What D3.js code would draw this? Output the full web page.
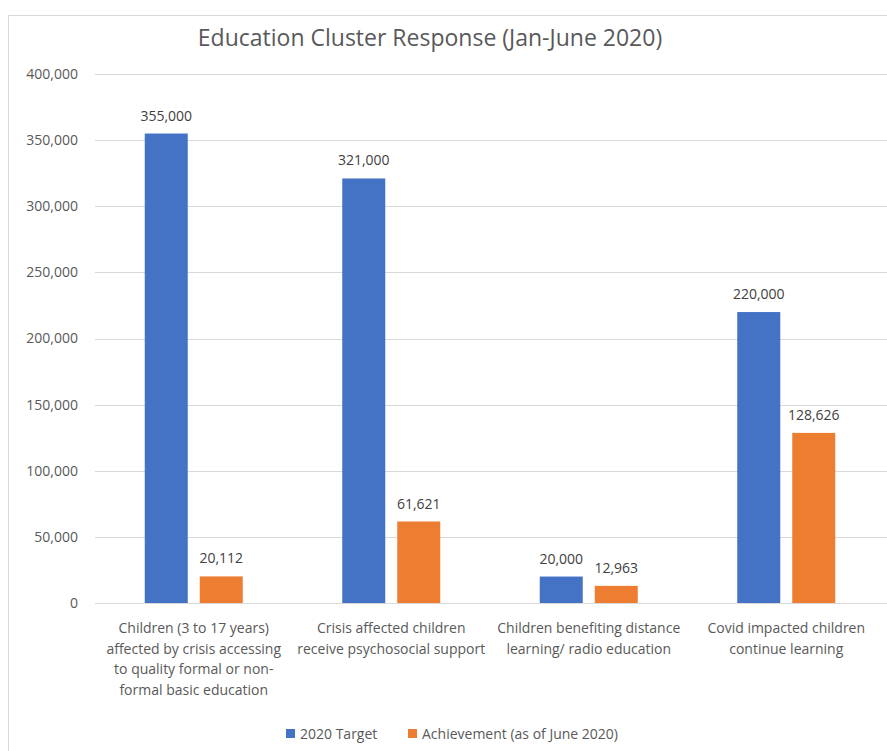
<!DOCTYPE html>
<html>
<head>
<meta charset="utf-8">
<script src="https://cdn.jsdelivr.net/npm/d3@7"></script>
<style>
  body { margin: 0; background: #fff; }
  svg { font-family: "Open Sans", "Noto Sans", sans-serif; }
</style>
</head>
<body>
<div id="chart"></div>
<script>
// chart data
const categories = [
    ["Children (3 to 17 years)", "affected by crisis accessing", "to quality formal or non-", "formal basic education"],
    ["Crisis affected children", "receive psychosocial support"],
    ["Children benefiting distance", "learning/ radio education"],
    ["Covid impacted children", "continue learning"]
];
const seriesNames = ["2020 Target", "Achievement (as of June 2020)"];
const target = [355000, 321000, 20000, 220000];
const achievement = [20112, 61621, 12963, 128626];
const yTicks = [0, 50000, 100000, 150000, 200000, 250000, 300000, 350000, 400000];
const colors = ["#4472C4", "#ED7D31"];

let width = 887, height = 751;
let margin = {left: 95, right: 2, top: 74, bottom: 148};

let svg = d3.select("#chart")
    .append("svg")
    .attr("width", width)
    .attr("height", height);

// chart border
svg.append("rect")
    .attr("x", 8.5)
    .attr("y", 15.5)
    .attr("width", 900)
    .attr("height", 800)
    .attr("fill", "none")
    .attr("stroke", "#d9d9d9");

let x = d3.scaleBand()
    .domain(d3.range(categories.length))
    .range([margin.left, width - margin.right]);

let y = d3.scaleLinear()
    .domain([0, 400000])
    .range([height - margin.bottom, margin.top]);

// gridlines
svg.append("g")
    .selectAll("line")
    .data(yTicks)
    .enter()
    .append("line")
    .attr("x1", margin.left)
    .attr("x2", width)
    .attr("y1", d => Math.round(y(d)) + 0.5)
    .attr("y2", d => Math.round(y(d)) + 0.5)
    .attr("stroke", "#d9d9d9")
    .attr("stroke-width", 1);

// y axis labels
let yAxis = d3.axisLeft(y)
    .tickValues(yTicks)
    .tickSize(0)
    .tickPadding(17)
    .tickFormat(d3.format(","));

let yg = svg.append("g")
    .attr("transform", `translate(${margin.left}, 0)`)
    .call(yAxis);
yg.select(".domain").remove();
yg.selectAll("text")
    .attr("fill", "#595959")
    .attr("font-size", "14px")
    .attr("font-family", "Open Sans, sans-serif");

// bars
let barW = 43, gap = 12;
let seriesData = [target, achievement];

seriesData.forEach((vals, s) => {
    let offset = s === 0 ? -(barW + gap / 2) : gap / 2;
    let cx = i => x(i) + x.bandwidth() / 2 + offset;

    svg.append("g")
        .selectAll("rect")
        .data(vals)
        .enter()
        .append("rect")
        .attr("x", (d, i) => cx(i))
        .attr("y", d => y(d))
        .attr("width", barW)
        .attr("height", d => y(0) - y(d))
        .attr("fill", colors[s]);

    // value labels
    svg.append("g")
        .selectAll("text")
        .data(vals)
        .enter()
        .append("text")
        .attr("x", (d, i) => cx(i) + barW / 2)
        .attr("y", d => y(d) - 13)
        .attr("text-anchor", "middle")
        .attr("font-size", "14px")
        .attr("fill", "#404040")
        .text(d => d3.format(",")(d));
});

// category labels
categories.forEach((lines, i) => {
    let t = svg.append("text")
        .attr("x", x(i) + x.bandwidth() / 2)
        .attr("y", y(0) + 30)
        .attr("text-anchor", "middle")
        .attr("font-size", "14px")
        .attr("fill", "#595959");
    lines.forEach((line, j) => {
        t.append("tspan")
            .attr("x", x(i) + x.bandwidth() / 2)
            .attr("dy", j === 0 ? 0 : 20.5)
            .text(line);
    });
});

// title
svg.append("text")
    .attr("x", 430)
    .attr("y", 46)
    .attr("text-anchor", "middle")
    .attr("font-size", "23px")
    .attr("fill", "#595959")
    .text("Education Cluster Response (Jan-June 2020)");

// legend
let legendX = [286, 408];
seriesNames.forEach((name, s) => {
    svg.append("rect")
        .attr("x", legendX[s])
        .attr("y", 729)
        .attr("width", 9)
        .attr("height", 9)
        .attr("fill", colors[s]);
    svg.append("text")
        .attr("x", legendX[s] + 14)
        .attr("y", 738.5)
        .attr("font-size", "14px")
        .attr("fill", "#595959")
        .text(name);
});
</script>
</body>
</html>
